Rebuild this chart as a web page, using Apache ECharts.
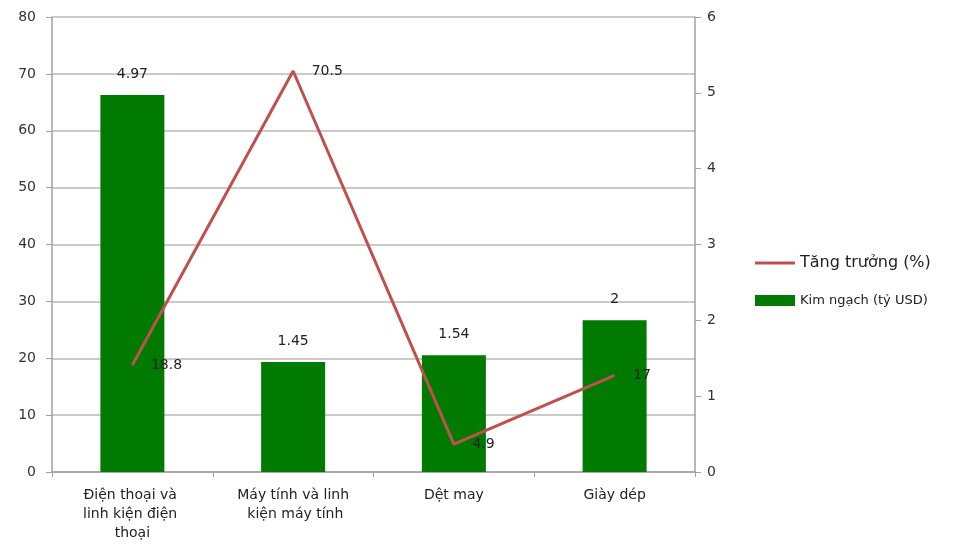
<!DOCTYPE html>
<html><head><meta charset="utf-8">
<script src="https://cdn.jsdelivr.net/npm/echarts@6/dist/echarts.min.js"></script>
<style>html,body{margin:0;padding:0;background:#fff}#c{width:959px;height:558px}</style>
</head><body><div id="c"></div>
<script>
const categories = ['Điện thoại và linh kiện điện thoại', 'Máy tính và linh kiện máy tính', 'Dệt may', 'Giày dép'];
const growth = [18.8, 70.5, 4.9, 17];
const turnover = [4.97, 1.45, 1.54, 2];
const leftTicks = {min: 0, max: 80, interval: 10};
const rightTicks = {min: 0, max: 6, interval: 1};

const chart = echarts.init(document.getElementById('c'));
const font = 'Verdana, "DejaVu Sans", sans-serif';
chart.setOption({
  animation: false,
  grid: {left: 52, right: 264, top: 17, bottom: 86},
  legend: {
    orient: 'vertical', left: 750, top: 250, itemGap: 23,
    itemWidth: 40, itemHeight: 11,
    data: [
      {name: 'Tăng trưởng (%)', icon: 'path://M0,4 L40,4 L40,7 L0,7 Z', itemStyle: {color: '#c0504d'}, textStyle: {fontSize: 16, color: '#222'}},
      {name: 'Kim ngạch (tỷ USD)', icon: 'rect', textStyle: {fontSize: 13, color: '#222'}}
    ],
    textStyle: {fontFamily: font}
  },
  xAxis: {
    type: 'category', data: categories,
    axisLine: {lineStyle: {color: '#a0a0a0', width: 1.5}},
    axisTick: {show: true, length: 5, lineStyle: {color: '#a0a0a0'}},
    axisLabel: {color: '#222', fontSize: 14, fontFamily: font, margin: 14, width: 135, overflow: 'break', lineHeight: 19, interval: 0}
  },
  yAxis: [
    {type: 'value', ...leftTicks, position: 'left',
     axisLine: {show: true, lineStyle: {color: '#a0a0a0', width: 1.5}},
     axisTick: {show: true, length: 6, lineStyle: {color: '#a0a0a0'}},
     splitLine: {lineStyle: {color: '#b8b8b8', width: 1.5}},
     axisLabel: {color: '#333', fontSize: 14, fontFamily: font, margin: 16}},
    {type: 'value', ...rightTicks, position: 'right',
     axisLine: {show: true, lineStyle: {color: '#a0a0a0', width: 1.5}},
     axisTick: {show: true, length: 6, lineStyle: {color: '#a0a0a0'}},
     splitLine: {show: false},
     axisLabel: {color: '#333', fontSize: 14, fontFamily: font, margin: 12}}
  ],
  series: [
    {name: 'Kim ngạch (tỷ USD)', type: 'bar', yAxisIndex: 1, data: turnover, barWidth: 64,
     itemStyle: {color: '#007a00'},
     label: {show: true, position: 'top', distance: 14, color: '#222', fontSize: 14, fontFamily: font}},
    {name: 'Tăng trưởng (%)', type: 'line', yAxisIndex: 0, data: growth,
     symbol: 'circle', symbolSize: 1, showSymbol: true,
     lineStyle: {color: '#c0504d', width: 3}, itemStyle: {color: '#c0504d'},
     label: {show: true, position: 'right', distance: 18, color: '#222', fontSize: 14, fontFamily: font}}
  ]
});
</script></body></html>
